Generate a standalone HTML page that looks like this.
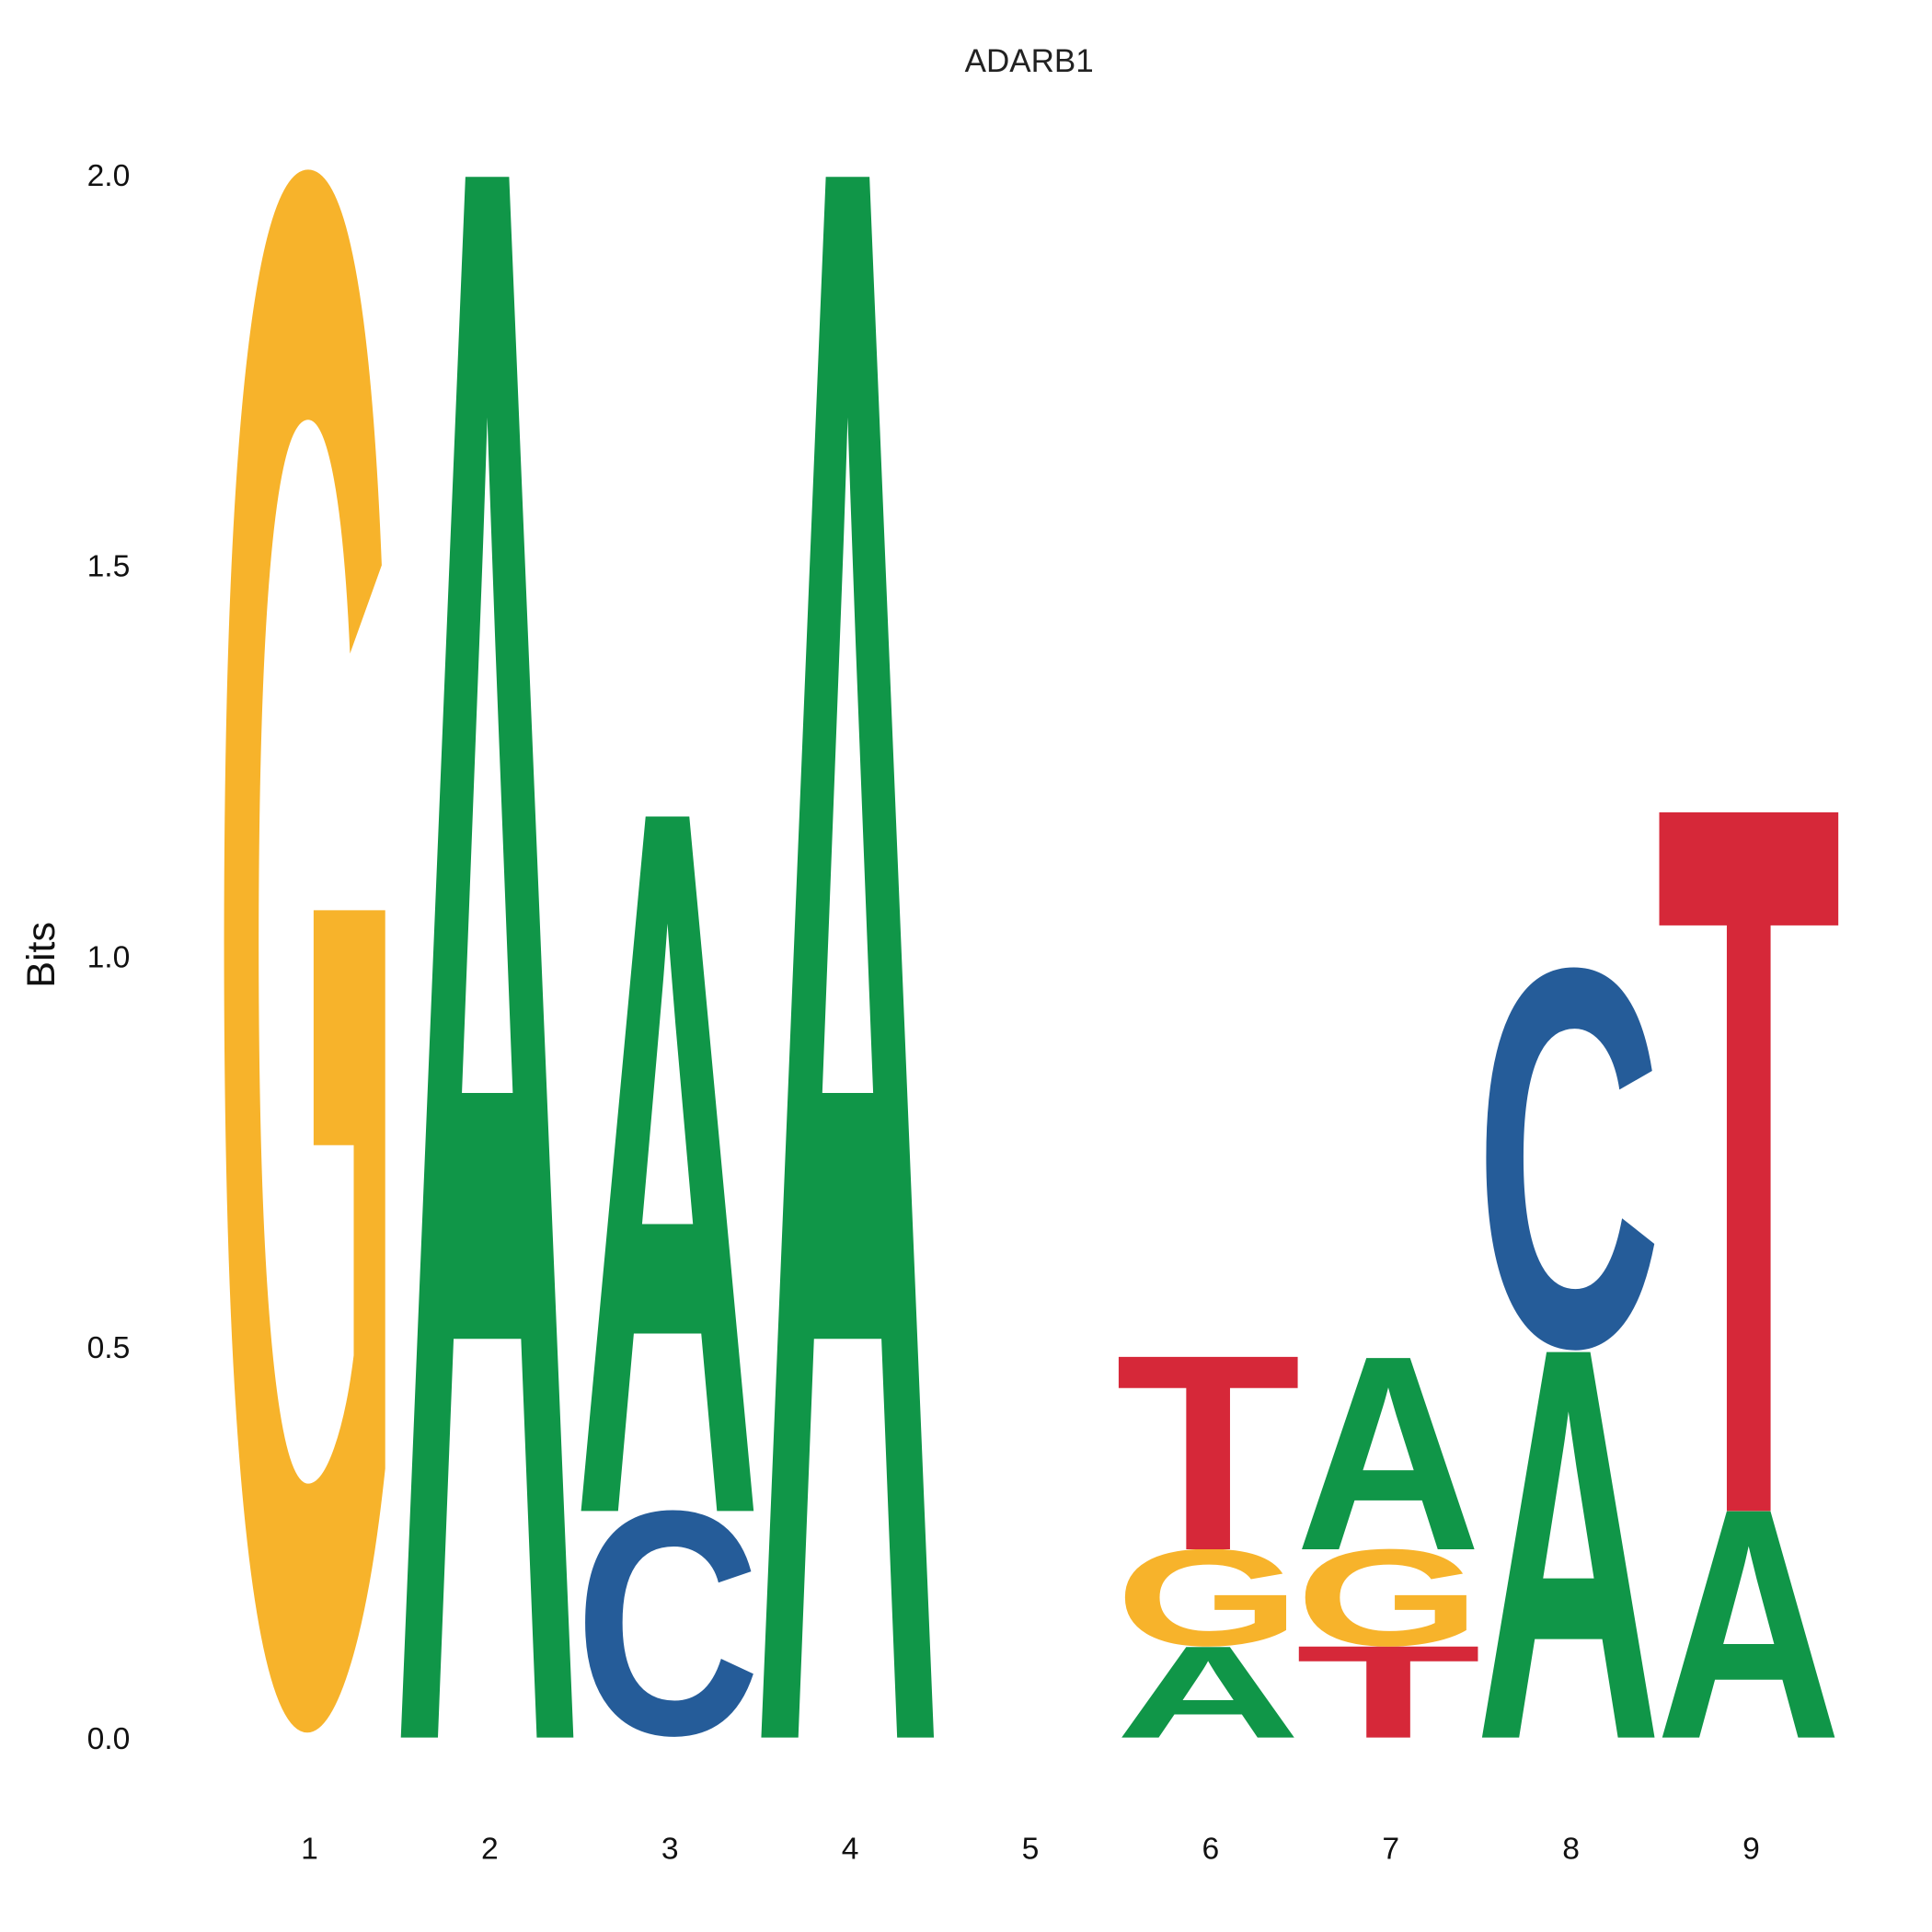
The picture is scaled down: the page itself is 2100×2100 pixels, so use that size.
<!DOCTYPE html>
<html><head><meta charset="utf-8"><style>
html,body{margin:0;padding:0;background:#fff;overflow:hidden;width:2100px;height:2100px}
svg{display:block}
text{font-family:"Liberation Sans",Arial,sans-serif}
</style></head><body>
<svg id="chart" width="2100" height="2100" viewBox="0 0 1560 1560" xmlns="http://www.w3.org/2000/svg">
<text x="831" y="58" font-size="26" text-anchor="middle" fill="#222">ADARB1</text>
<text transform="translate(44,771) rotate(-90)" font-size="32" text-anchor="middle" fill="#111">Bits</text>
<g id="yticks"></g><g id="xticks"></g><g id="letters"></g>
</svg>
<script>
const positions = [1,2,3,4,5,6,7,8,9];
// stacked bottom-to-top letters and bit heights per position
const stackLetters = [["G"],["A"],["C","A"],["A"],[],["A","G","T"],["T","G","A"],["A","C"],["A","T"]];
const stackHeights = [[2.0],[2.0],[0.29,0.89],[2.0],[],[0.116,0.125,0.245],[0.116,0.125,0.245],[0.494,0.49],[0.29,0.89]];
const yTickValues = [0,0.5,1.0,1.5,2.0];
const yTickLabels = ["0.0","0.5","1.0","1.5","2.0"];
const colors = {A:"#109648",C:"#255C99",G:"#F7B32B",T:"#D62839"};
const NS="http://www.w3.org/2000/svg";
const y = v => 1403 - v*631;
const xc = p => 250 + (p-1)*145.5;
const letterW = 150;
const capHeights = {A:68.9,T:68.5,G:70.8,C:70.8};
const yt=document.getElementById('yticks');
yTickValues.forEach((v,i)=>{
  const t=document.createElementNS(NS,'text');
  
  
  t.setAttribute('x',105);t.setAttribute('y',y(v)+9);
  t.setAttribute('font-size','25');t.setAttribute('text-anchor','end');t.setAttribute('fill','#111');
  t.textContent=yTickLabels[i];yt.appendChild(t);
});
const xt=document.getElementById('xticks');
positions.forEach(p=>{
  const t=document.createElementNS(NS,'text');
  
  
  t.setAttribute('x',xc(p));t.setAttribute('y',1501);
  t.setAttribute('font-size','25');t.setAttribute('text-anchor','middle');t.setAttribute('fill','#111');
  t.textContent=String(p);xt.appendChild(t);
});
const lg=document.getElementById('letters');
positions.forEach((p,i)=>{
  let cum=0;
  stackLetters[i].forEach((L,j)=>{
    const h=stackHeights[i][j];
    const bottom=y(cum);const top=y(cum+h);cum+=h;
    const px=bottom-top;
    const round=(L==="G"||L==="C");
    const desc=round?1.2:0;
    const sy=px/capHeights[L];
    const t=document.createElementNS(NS,'text');
    
    
    t.setAttribute('x',0);t.setAttribute('y',-desc);
    t.setAttribute('font-size','100');t.setAttribute('font-weight','bold');
    t.setAttribute('textLength',letterW);t.setAttribute('lengthAdjust','spacingAndGlyphs');
    t.setAttribute('fill',colors[L]);
    t.setAttribute('transform','translate('+(xc(p)-letterW/2-2)+','+bottom+') scale(1,'+sy+')');
    t.textContent=L;lg.appendChild(t);
  });
});
</script>
</body></html>
